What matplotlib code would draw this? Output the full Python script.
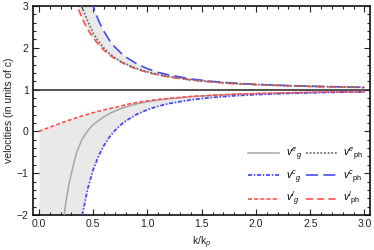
import numpy as np
import matplotlib
matplotlib.use("Agg")
import matplotlib.pyplot as plt
from matplotlib.ticker import MultipleLocator

plt.rcParams['font.family'] = ['Liberation Sans', 'DejaVu Sans']
plt.rcParams['mathtext.fontset'] = 'custom'
plt.rcParams['mathtext.rm'] = 'Liberation Sans'
plt.rcParams['mathtext.it'] = 'Liberation Sans:italic'

nan = np.nan
k = [0.0, 0.1, 0.2, 0.225, 0.25, 0.275, 0.3, 0.35, 0.4, 0.45, 0.5, 0.55, 0.6, 0.65, 0.7,
     0.75, 0.8, 0.9, 1.0, 1.1, 1.2, 1.4, 1.6, 1.8, 2.0, 2.3, 2.6, 3.0]

ve_g = [-60, -20, -2.8, -2.15, -1.67, -1.29, -0.99, -0.48, -0.18, 0.02, 0.16, 0.26, 0.35,
        0.425, 0.487, 0.54, 0.585, 0.657, 0.71, 0.751, 0.783, 0.831, 0.863, 0.887, 0.904,
        0.923, 0.937, 0.95]
ve_ph = [nan, 20.0, 7.0, 6.0, 5.3, 4.7, 4.2, 3.45, 2.96, 2.64, 2.35, 2.15, 1.99, 1.86, 1.76,
         1.68, 1.615, 1.505, 1.425, 1.36, 1.31, 1.235, 1.185, 1.148, 1.122, 1.093,
         1.073, 1.053]
vc_g = [-100, -47, -11, -8.5, -6.68, -5.35, -4.33, -2.92, -2.0, -1.37, -0.92, -0.587, -0.333,
        -0.136, 0.02, 0.147, 0.25, 0.407, 0.52, 0.603, 0.667, 0.755, 0.8125, 0.852,
        0.88, 0.909, 0.929, 0.947]
vc_ph = [nan, 51.0, 13.5, 10.9, 9.0, 7.6, 6.56, 5.08, 4.125, 3.47, 3.0, 2.65, 2.39, 2.18, 2.02,
         1.89, 1.78, 1.62, 1.5, 1.41, 1.35, 1.255, 1.195, 1.154, 1.125, 1.095, 1.074,
         1.056]
vl_g = [0.0, 0.10, 0.196, 0.22, 0.243, 0.265, 0.287, 0.330, 0.371, 0.410, 0.447, 0.482, 0.514,
        0.545, 0.573, 0.60, 0.64, 0.69, 0.73, 0.765, 0.79, 0.835, 0.865, 0.89, 0.905,
        0.925, 0.94, 0.955]
vl_ph = [nan, 10.05, 5.10, 4.56, 4.12, 3.77, 3.48, 3.03, 2.69, 2.44, 2.24, 2.08, 1.94, 1.83, 1.74,
         1.67, 1.60, 1.49, 1.41, 1.35, 1.30, 1.23, 1.18, 1.14, 1.12, 1.09, 1.07, 1.05]

x_ticks = [0.0, 0.5, 1.0, 1.5, 2.0, 2.5, 3.0]
y_ticks = [-2, -1, 0, 1, 2, 3]

red = '#ff5050'
blue = '#4a4af5'
grey_solid = '#a6a6a6'
grey_dot = '#6e6e6e'

fig = plt.figure(figsize=(3.74, 2.5), dpi=100)
ax = fig.add_axes([0.088, 0.14, 0.901, 0.836])

kk = np.array(k)
ax.fill_between(kk, np.array(vl_g), np.clip(np.array(vc_g), -3, None),
                color='#e9e9e9', lw=0, zorder=1)
ax.fill_between(kk, np.array(vl_ph), np.clip(np.array(vc_ph), None, 4),
                color='#e9e9e9', lw=0, zorder=1)

ax.axhline(1.0, color='#333333', lw=1.2, zorder=2)

lw = 1.1
l1, = ax.plot(kk, ve_g, color=grey_solid, lw=lw, zorder=3, label=r'$v^{e}{}_{g}$')
l2, = ax.plot(kk, vc_g, color=blue, lw=1.3, zorder=3, dashes=(2.2, 1.0, 0.8, 1.0),
              label=r'$v^{c}{}_{g}$')
l3, = ax.plot(kk, vl_g, color=red, lw=1.2, zorder=3, dashes=(2.4, 1.3),
              label=r'$v^{l}{}_{g}$')
l4, = ax.plot(kk, ve_ph, color=grey_dot, lw=1.3, zorder=4, dashes=(1, 1),
              label=r'$v^{e}{}_{\mathrm{ph}}$')
l5, = ax.plot(kk, vc_ph, color=blue, lw=1.2, zorder=3, dashes=(7.2, 3.2),
              label=r'$v^{c}{}_{\mathrm{ph}}$')
l6, = ax.plot(kk, vl_ph, color=red, lw=1.2, zorder=3, dashes=(4.2, 2.5),
              label=r'$v^{l}{}_{\mathrm{ph}}$')

ax.set_xlim(-0.055, 3.05)
ax.set_ylim(-2, 3)
ax.set_xticks(x_ticks)
ax.set_xticklabels([f'{t:.1f}' for t in x_ticks])
ax.set_yticks(y_ticks)
ax.set_yticklabels([str(t).replace('-', '\u2212') for t in y_ticks])
ax.xaxis.set_minor_locator(MultipleLocator(0.1))
ax.yaxis.set_minor_locator(MultipleLocator(0.2))
ax.tick_params(which='both', direction='in', top=True, right=True, labelsize=7.5,
               width=0.8, colors='#222222', labelcolor='#222222')
ax.tick_params(which='major', length=4, pad=3)
ax.tick_params(which='minor', length=2)
for s in ax.spines.values():
    s.set_linewidth(1.2)
    s.set_color('#111111')

ax.set_xlabel(r'k/k$_{p}$', fontsize=7.5, color='#222222', labelpad=4)
ax.set_ylabel('velocities (in units of c)', fontsize=7.5, color='#222222', labelpad=2)

leg = ax.legend(handles=[l1, l2, l3, l4, l5, l6], ncol=2, loc='lower right',
                bbox_to_anchor=(0.992, 0.012), frameon=False, fontsize=7.5,
                handlelength=3.0, handletextpad=0.6, columnspacing=0.4,
                labelspacing=0.52, borderaxespad=0.0)

fig.savefig('out.png', dpi=100)
